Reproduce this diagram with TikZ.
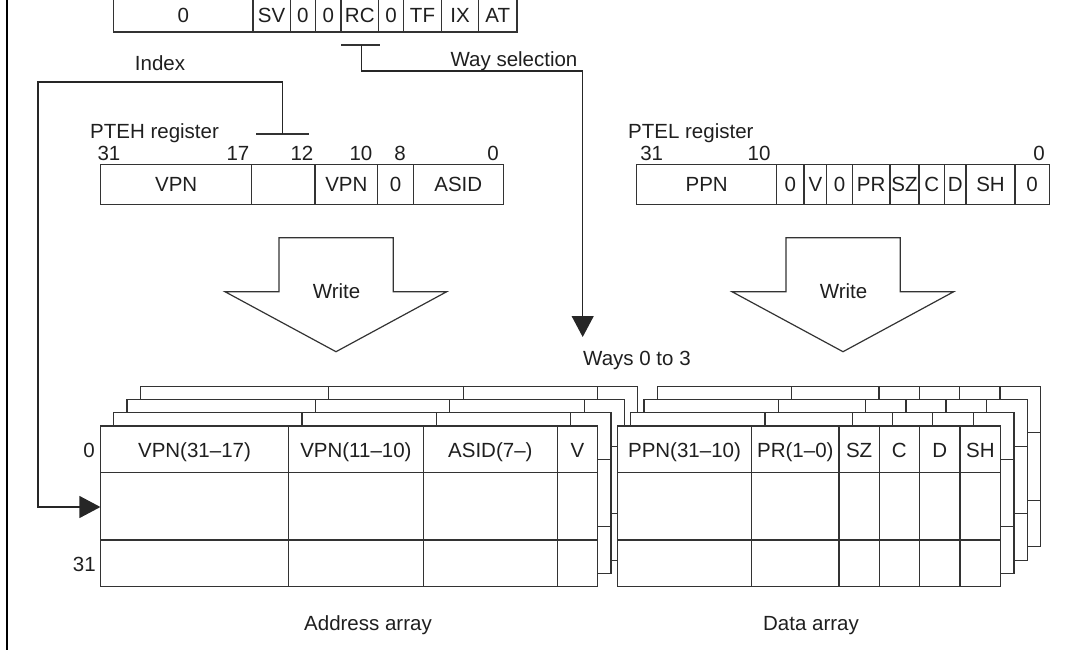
\documentclass[tikz,border=0pt]{standalone}
\usepackage{fontspec}
\setmainfont{Liberation Sans}
\usetikzlibrary{arrows.meta}
\begin{document}
\begin{tikzpicture}[x=1pt,y=-1pt,
  lbl/.style={font=\fontsize{20.5}{24}\selectfont, text=black!88, inner sep=0pt, anchor=base},
  ln/.style={draw=black!80, line width=1.2pt},
  cell/.style={draw=black!80, line width=1.2pt, fill=white},
  bigtip/.style={-{Triangle[length=21pt,width=22pt]}, draw=black!85, line width=1.2pt},
  frame/.style={draw=black, line width=2.6pt}]
\useasboundingbox (0,0) rectangle (1069,649);
\clip (0,0) rectangle (1069,649);
% left frame line
\draw[frame] (7,-5) -- (7,660);
% ---------- top register ----------
\draw[ln] (113.6,-20) rectangle (517,32);
\foreach \x in {252.9,290.4,315.4,341,378.6,403.6,441.4,478.6}
  \draw[ln] (\x,-20) -- (\x,32);
\foreach \a/\b/\t [count=\i] in {113.6/252.9/0,252.9/290.4/SV,290.4/315.4/0,315.4/341/0,341/378.6/RC,378.6/403.6/0,403.6/441.4/TF,441.4/478.6/IX,478.6/517/AT}
  \node[lbl] (top\i) at ({(\a+\b)/2},22) {\t};
% ---------- way selection ----------
\coordinate (wsA) at (341,45);
\coordinate (wsB) at (380,45);
\coordinate (wsC) at (361.8,45);
\coordinate (wsD) at (361.8,71);
\coordinate (wsE) at (582.7,71);
\coordinate (wsF) at (582.7,337);
\draw[ln] (wsA) -- (wsB);
\draw[bigtip] (wsC) -- (wsD) -- (wsE) -- (wsF);
\node[lbl] (wslbl) at (514,66) {Way selection};
% ---------- index ----------
\node[lbl] (idxlbl) at (160,70) {Index};
\coordinate (ixA) at (256,134);
\coordinate (ixB) at (309,134);
\coordinate (ixC) at (282.7,134);
\coordinate (ixD) at (282.7,82);
\coordinate (ixE) at (38,82);
\coordinate (ixF) at (38,507);
\coordinate (ixG) at (100.4,507);
\draw[ln] (ixA) -- (ixB);
\draw[bigtip] (ixC) -- (ixD) -- (ixE) -- (ixF) -- (ixG);
% ---------- PTEH register ----------
\node[lbl, anchor=base west] (ptehlbl) at (90,138.5) {PTEH register};
\foreach \n/\x in {31/109,17/238,12/302,10/361,8/400,0/493}
  \node[lbl] (hb\n) at (\x,160) {\n};
\draw[ln] (100.7,164.3) rectangle (503.3,204.3);
\foreach \x in {251.7,315,377.7,413.3}
  \draw[ln] (\x,164.3) -- (\x,204.3);
\foreach \a/\b/\t [count=\i] in {100.7/251.7/VPN,251.7/315/{},315/377.7/VPN,377.7/413.3/0,413.3/503.3/ASID}
  \node[lbl] (h\i) at ({(\a+\b)/2},191.8) {\t};
% ---------- PTEL register ----------
\node[lbl, anchor=base west] (ptellbl) at (628,138.5) {PTEL register};
\foreach \n/\x in {31/651.7,10/759,0/1039}
  \node[lbl] (lb\n) at (\x,160) {\n};
\draw[ln] (636.7,164.3) rectangle (1049.3,204.3);
\foreach \x in {776.7,804,826.7,852.3,890,919,944.3,966,1015}
  \draw[ln] (\x,164.3) -- (\x,204.3);
\foreach \a/\b/\t [count=\i] in {636.7/776.7/PPN,776.7/804/0,804/826.7/V,826.7/852.3/0,852.3/890/PR,890/919/SZ,919/944.3/C,944.3/966/D,966/1015/SH,1015/1049.3/0}
  \node[lbl] (l\i) at ({(\a+\b)/2},191.8) {\t};
% ---------- write arrows ----------
\draw[ln] (279,237.7) -- (393.3,237.7) -- (393.3,291.7) -- (446.7,291.7) -- (336,351.7) -- (225,291.7) -- (279,291.7) -- cycle;
\node[lbl] (w1) at (336.5,298.5) {Write};
\begin{scope}[shift={(507,0)}]
\draw[ln] (279,237.7) -- (393.3,237.7) -- (393.3,291.7) -- (446.7,291.7) -- (336,351.7) -- (225,291.7) -- (279,291.7) -- cycle;
\node[lbl] (w2) at (336.5,298.5) {Write};
\end{scope}
\node[lbl, anchor=base west] (ways) at (583,365.5) {Ways 0 to 3};
% ---------- address array ----------
\foreach \k in {3,2,1,0}{
  \begin{scope}[shift={({13.3*\k},{-13.3*\k})}]
    \filldraw[cell] (100.4,426) rectangle (597.6,586.7);
    \foreach \x in {288.6,423.2,557.5} \draw[ln] (\x,426) -- (\x,586.7);
    \foreach \y in {472.7,540} \draw[ln] (100.4,\y) -- (597.6,\y);
  \end{scope}
}
\foreach \a/\b/\t [count=\i] in {100.4/288.6/VPN(31–17),288.6/423.2/VPN(11–10),423.2/557.5/ASID(7–),557.5/597.6/V}
  \node[lbl] (a\i) at ({(\a+\b)/2},457) {\t};
\node[lbl, anchor=base east] (r0) at (95,457) {0};
\node[lbl, anchor=base east] (r31) at (96,571) {31};
% ---------- data array ----------
\foreach \k in {3,2,1,0}{
  \begin{scope}[shift={({13.3*\k},{-13.3*\k})}]
    \filldraw[cell] (617.3,426) rectangle (1000.7,586.7);
    \foreach \x in {751.7,839,879.3,919.3,960} \draw[ln] (\x,426) -- (\x,586.7);
    \foreach \y in {472.7,540} \draw[ln] (617.3,\y) -- (1000.7,\y);
  \end{scope}
}
\foreach \a/\b/\t [count=\i] in {617.3/751.7/PPN(31–10),751.7/839/PR(1–0),839/879.3/SZ,879.3/919.3/C,919.3/960/D,960/1000.7/SH}
  \node[lbl] (d\i) at ({(\a+\b)/2},457) {\t};
% ---------- captions ----------
\node[lbl] (addrcap) at (368,630) {Address array};
\node[lbl] (datacap) at (811,630) {Data array};
\end{tikzpicture}
\end{document}
